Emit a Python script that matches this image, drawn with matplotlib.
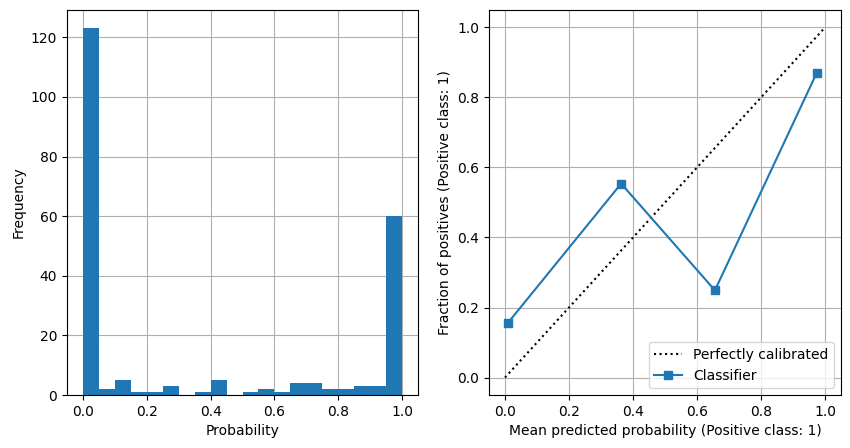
import numpy as np
import matplotlib
matplotlib.use("Agg")
from matplotlib import pyplot as plt

# histogram counts for 20 bins of width 0.05 between 0 and 1
bin_edges = np.linspace(0, 1, 21)
counts = [123, 2, 5, 1, 1, 3, 0, 1, 5, 0, 1, 2, 1, 4, 4, 2, 2, 3, 3, 60]

# calibration curve
mean_pred = [0.010, 0.363, 0.656, 0.974]
frac_pos = [0.157, 0.554, 0.249, 0.870]

fig = plt.figure(figsize=(8.5, 4.48), dpi=100)
ax1 = fig.add_axes([67/850, 53/448, 351/850, 385/448])
ax2 = fig.add_axes([489/850, 53/448, 352/850, 385/448])

# left: histogram of predicted probabilities
ax1.hist(bin_edges[:-1], bins=bin_edges, weights=counts, color='#1f77b4')
ax1.set_xlabel("Probability")
ax1.set_ylabel("Frequency")
ax1.grid(True)
ax1.set_axisbelow(True)

# right: calibration display
ax2.plot([0, 1], [0, 1], 'k:', label='Perfectly calibrated')
ax2.plot(mean_pred, frac_pos, 's-', color='#1f77b4', label='Classifier')
ax2.set_xlabel("Mean predicted probability (Positive class: 1)")
ax2.set_ylabel("Fraction of positives (Positive class: 1)")
ax2.legend(loc='lower right')
ax2.grid(True)

plt.savefig("out.png")
